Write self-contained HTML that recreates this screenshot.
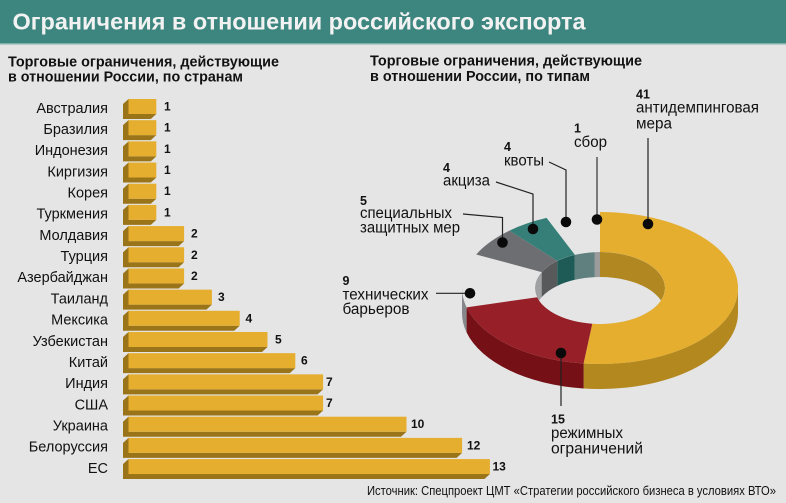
<!DOCTYPE html>
<html><head><meta charset="utf-8"><style>
html,body{margin:0;padding:0;background:#e5e5e5;}
svg{display:block;}
text{font-family:"Liberation Sans","Noto Sans CJK SC",sans-serif;}
</style></head><body>
<svg width="786" height="503" viewBox="0 0 786 503" xmlns="http://www.w3.org/2000/svg">
<rect x="0" y="0" width="786" height="503" fill="#e5e5e5"/>
<rect x="0" y="0" width="786" height="43" fill="#3d8680"/>
<rect x="0" y="43" width="786" height="1.5" fill="#7fb0ab"/>
<text x="12.5" y="29.5" font-size="23" font-weight="bold" fill="#f2f2f2" textLength="573" lengthAdjust="spacingAndGlyphs">Ограничения в отношении российского экспорта</text>

<g font-size="14.5" font-weight="bold" fill="#111">
<text x="8" y="66.5" textLength="271" lengthAdjust="spacingAndGlyphs">Торговые ограничения, действующие</text>
<text x="8" y="81.5" textLength="235" lengthAdjust="spacingAndGlyphs">в отношении России, по странам</text>
<text x="370" y="65.7" textLength="272" lengthAdjust="spacingAndGlyphs">Торговые ограничения, действующие</text>
<text x="370" y="81" textLength="220" lengthAdjust="spacingAndGlyphs">в отношении России, по типам</text>
</g>

<!-- bars -->
<g>
<path d="M128.5,99 L123,104 L123,119 L150.8,119 L156.3,114 L128.5,114 Z" fill="#9a7418"/><rect x="128.5" y="99" width="27.8" height="15" fill="#e5ae2e"/>
<path d="M128.5,120.18 L123,125.18 L123,140.18 L150.8,140.18 L156.3,135.18 L128.5,135.18 Z" fill="#9a7418"/><rect x="128.5" y="120.18" width="27.8" height="15" fill="#e5ae2e"/>
<path d="M128.5,141.36 L123,146.36 L123,161.36 L150.8,161.36 L156.3,156.36 L128.5,156.36 Z" fill="#9a7418"/><rect x="128.5" y="141.36" width="27.8" height="15" fill="#e5ae2e"/>
<path d="M128.5,162.54 L123,167.54 L123,182.54 L150.8,182.54 L156.3,177.54 L128.5,177.54 Z" fill="#9a7418"/><rect x="128.5" y="162.54" width="27.8" height="15" fill="#e5ae2e"/>
<path d="M128.5,183.72 L123,188.72 L123,203.72 L150.8,203.72 L156.3,198.72 L128.5,198.72 Z" fill="#9a7418"/><rect x="128.5" y="183.72" width="27.8" height="15" fill="#e5ae2e"/>
<path d="M128.5,204.9 L123,209.9 L123,224.9 L150.8,224.9 L156.3,219.9 L128.5,219.9 Z" fill="#9a7418"/><rect x="128.5" y="204.9" width="27.8" height="15" fill="#e5ae2e"/>
<path d="M128.5,226.08 L123,231.08 L123,246.08 L178.6,246.08 L184.1,241.08 L128.5,241.08 Z" fill="#9a7418"/><rect x="128.5" y="226.08" width="55.6" height="15" fill="#e5ae2e"/>
<path d="M128.5,247.26 L123,252.26 L123,267.26 L178.6,267.26 L184.1,262.26 L128.5,262.26 Z" fill="#9a7418"/><rect x="128.5" y="247.26" width="55.6" height="15" fill="#e5ae2e"/>
<path d="M128.5,268.44 L123,273.44 L123,288.44 L178.6,288.44 L184.1,283.44 L128.5,283.44 Z" fill="#9a7418"/><rect x="128.5" y="268.44" width="55.6" height="15" fill="#e5ae2e"/>
<path d="M128.5,289.62 L123,294.62 L123,309.62 L206.4,309.62 L211.9,304.62 L128.5,304.62 Z" fill="#9a7418"/><rect x="128.5" y="289.62" width="83.4" height="15" fill="#e5ae2e"/>
<path d="M128.5,310.8 L123,315.8 L123,330.8 L234.2,330.8 L239.7,325.8 L128.5,325.8 Z" fill="#9a7418"/><rect x="128.5" y="310.8" width="111.2" height="15" fill="#e5ae2e"/>
<path d="M128.5,331.98 L123,336.98 L123,351.98 L262,351.98 L267.5,346.98 L128.5,346.98 Z" fill="#9a7418"/><rect x="128.5" y="331.98" width="139" height="15" fill="#e5ae2e"/>
<path d="M128.5,353.16 L123,358.16 L123,373.16 L289.8,373.16 L295.3,368.16 L128.5,368.16 Z" fill="#9a7418"/><rect x="128.5" y="353.16" width="166.8" height="15" fill="#e5ae2e"/>
<path d="M128.5,374.34 L123,379.34 L123,394.34 L317.6,394.34 L323.1,389.34 L128.5,389.34 Z" fill="#9a7418"/><rect x="128.5" y="374.34" width="194.6" height="15" fill="#e5ae2e"/>
<path d="M128.5,395.52 L123,400.52 L123,415.52 L317.6,415.52 L323.1,410.52 L128.5,410.52 Z" fill="#9a7418"/><rect x="128.5" y="395.52" width="194.6" height="15" fill="#e5ae2e"/>
<path d="M128.5,416.7 L123,421.7 L123,436.7 L401,436.7 L406.5,431.7 L128.5,431.7 Z" fill="#9a7418"/><rect x="128.5" y="416.7" width="278" height="15" fill="#e5ae2e"/>
<path d="M128.5,437.88 L123,442.88 L123,457.88 L456.6,457.88 L462.1,452.88 L128.5,452.88 Z" fill="#9a7418"/><rect x="128.5" y="437.88" width="333.6" height="15" fill="#e5ae2e"/>
<path d="M128.5,459.06 L123,464.06 L123,479.06 L484.4,479.06 L489.9,474.06 L128.5,474.06 Z" fill="#9a7418"/><rect x="128.5" y="459.06" width="361.4" height="15" fill="#e5ae2e"/>
</g>

<!-- country labels -->
<g font-size="14.5" fill="#111" text-anchor="end">
<text x="108" y="112.8">Австралия</text>
<text x="108" y="134">Бразилия</text>
<text x="108" y="155.2">Индонезия</text>
<text x="108" y="176.3">Киргизия</text>
<text x="108" y="197.5">Корея</text>
<text x="108" y="218.7">Туркмения</text>
<text x="108" y="239.9">Молдавия</text>
<text x="108" y="261.1">Турция</text>
<text x="108" y="282.2">Азербайджан</text>
<text x="108" y="303.4">Таиланд</text>
<text x="108" y="324.6">Мексика</text>
<text x="108" y="345.8">Узбекистан</text>
<text x="108" y="367">Китай</text>
<text x="108" y="388.1">Индия</text>
<text x="108" y="409.3">США</text>
<text x="108" y="430.5">Украина</text>
<text x="108" y="451.7">Белоруссия</text>
<text x="108" y="472.9">ЕС</text>
</g>

<!-- values -->
<g font-size="12" font-weight="bold" fill="#111">
<text x="164" y="110.5">1</text>
<text x="164" y="131.7">1</text>
<text x="164" y="152.9">1</text>
<text x="164" y="174">1</text>
<text x="164" y="195.2">1</text>
<text x="164" y="216.4">1</text>
<text x="191" y="237.6">2</text>
<text x="191" y="258.8">2</text>
<text x="191" y="279.9">2</text>
<text x="218" y="301.1">3</text>
<text x="245.5" y="322.3">4</text>
<text x="275" y="343.5">5</text>
<text x="301" y="364.7">6</text>
<text x="326" y="385.8">7</text>
<text x="326" y="407">7</text>
<text x="411" y="428.2">10</text>
<text x="467" y="449.4">12</text>
<text x="492.5" y="470.6">13</text>
</g>

<!-- donut -->
<defs>
<clipPath id="hole"><ellipse cx="600" cy="288" rx="65" ry="36"/></clipPath>
</defs>
<!-- outer sides -->
<path d="M738,288 A138,76 0 0,1 583.58,363.46 L583.58,388.46 A138,76 0 0,0 738,313 Z" fill="#b3891f"/>
<path d="M583.58,363.46 A138,76 0 0,1 466.58,307.43 L466.58,332.43 A138,76 0 0,0 583.58,388.46 Z" fill="#741016"/>
<path d="M466.58,307.43 A138,76 0 0,1 462,288 L462,313 A138,76 0 0,0 466.58,332.43 Z" fill="#86878a"/>
<!-- inner walls -->
<g clip-path="url(#hole)">
<path d="M537.16,297.20 A65,36 0 0,1 541.68,272.11 L541.68,297.11 A65,36 0 0,0 537.16,322.20 Z" fill="#a0a1a3"/>
<path d="M541.68,272.11 A65,36 0 0,1 557.35,260.84 L557.35,285.84 A65,36 0 0,0 541.68,297.11 Z" fill="#58595b"/>
<path d="M557.35,260.84 A65,36 0 0,1 574.83,254.81 L574.83,279.81 A65,36 0 0,0 557.35,285.84 Z" fill="#1e5b56"/>
<path d="M574.83,254.81 A65,36 0 0,1 594.84,252.11 L594.84,277.11 A65,36 0 0,0 574.83,279.81 Z" fill="#5f807e"/>
<path d="M594.84,252.11 A65,36 0 0,1 600,252 L600,277 A65,36 0 0,0 594.84,277.11 Z" fill="#9b9b9b"/>
<path d="M600,252 A65,36 0 1,1 592.26,323.74 L592.26,348.74 A65,36 0 1,0 600,277 Z" fill="#b08720"/>
</g>
<!-- top faces -->
<path d="M600,212 A138,76 0 1,1 583.58,363.46 L592.26,323.74 A65,36 0 1,0 600,252 Z" fill="#e5ae2f"/>
<path d="M583.58,363.46 A138,76 0 0,1 466.58,307.43 L537.16,297.20 A65,36 0 0,0 592.26,323.74 Z" fill="#961f28"/>
<path d="M476.18,254.45 A138,76 0 0,1 509.44,230.65 L557.35,260.84 A65,36 0 0,0 541.68,272.11 Z" fill="#6d6e71"/>
<path d="M509.44,230.65 A138,76 0 0,1 546.55,217.93 L574.83,254.81 A65,36 0 0,0 557.35,260.84 Z" fill="#367f78"/>

<!-- leaders -->
<g stroke="#222" stroke-width="1.2" fill="none">
<path d="M648,138 L648,224"/>
<path d="M549,162 L566,170 L566,222"/>
<path d="M496,182 L533,194 L533,229"/>
<path d="M463,214 L502.5,217.5 L502.5,242.5"/>
<path d="M436,293.3 L470,293.3"/>
<path d="M561,353 L561,406"/>
</g>
<path d="M597,157 L597,219" stroke="#7a7a7a" stroke-width="2" fill="none"/>
<g fill="#0a0a0a">
<circle cx="648" cy="224" r="5.3"/>
<circle cx="597" cy="219.5" r="5.3"/>
<circle cx="566" cy="222" r="5.3"/>
<circle cx="533" cy="229" r="5.3"/>
<circle cx="502.5" cy="242.5" r="5.3"/>
<circle cx="470" cy="293.3" r="5.3"/>
<circle cx="561" cy="353" r="5.3"/>
</g>

<!-- donut labels -->
<g font-size="12.5" font-weight="bold" fill="#111">
<text x="636" y="98.5">41</text>
<text x="574" y="132.5">1</text>
<text x="504" y="151">4</text>
<text x="443" y="172">4</text>
<text x="360" y="205">5</text>
<text x="342.5" y="285">9</text>
<text x="551" y="423.5">15</text>
</g>
<g font-size="15.5" fill="#111">
<text x="636" y="112.5" textLength="123" lengthAdjust="spacingAndGlyphs">антидемпинговая</text>
<text x="636" y="128.5" textLength="36" lengthAdjust="spacingAndGlyphs">мера</text>
<text x="574" y="147" textLength="33" lengthAdjust="spacingAndGlyphs">сбор</text>
<text x="504" y="165.5" textLength="40" lengthAdjust="spacingAndGlyphs">квоты</text>
<text x="443" y="185.5" textLength="47" lengthAdjust="spacingAndGlyphs">акциза</text>
<text x="360" y="218" textLength="92" lengthAdjust="spacingAndGlyphs">специальных</text>
<text x="360" y="232.5" textLength="100" lengthAdjust="spacingAndGlyphs">защитных мер</text>
<text x="342.5" y="299.5" textLength="86" lengthAdjust="spacingAndGlyphs">технических</text>
<text x="342.5" y="314" textLength="67" lengthAdjust="spacingAndGlyphs">барьеров</text>
<text x="551" y="438" textLength="72" lengthAdjust="spacingAndGlyphs">режимных</text>
<text x="551" y="453.5" textLength="92" lengthAdjust="spacingAndGlyphs">ограничений</text>
</g>

<text x="367" y="495" font-size="12.5" fill="#111" textLength="409" lengthAdjust="spacingAndGlyphs">Источник: Спецпроект ЦМТ «Стратегии российского бизнеса в условиях ВТО»</text>
</svg>
</body></html>
